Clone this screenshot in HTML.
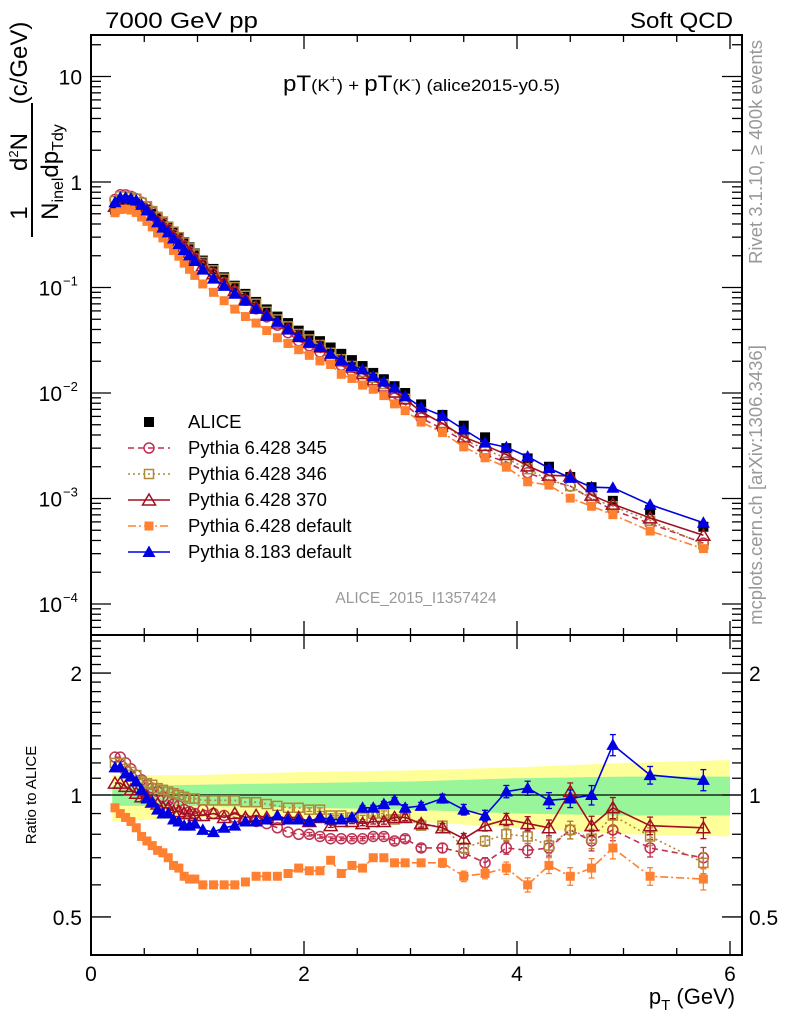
<!DOCTYPE html>
<html><head><meta charset="utf-8">
<style>
html,body{margin:0;padding:0;background:#fff;}
svg{display:block;font-family:"Liberation Sans",sans-serif;}
</style></head>
<body>
<svg id="chart" width="786" height="1024" viewBox="0 0 786 1024" xmlns="http://www.w3.org/2000/svg">
<text x="105" y="28" font-size="22" textLength="153" lengthAdjust="spacingAndGlyphs">7000 GeV pp</text>
<text x="630" y="28" font-size="22" textLength="103" lengthAdjust="spacingAndGlyphs">Soft QCD</text>
<text x="283" y="91" font-size="22" textLength="277" lengthAdjust="spacingAndGlyphs">pT<tspan font-size="17">(K</tspan><tspan font-size="11" dy="-8">+</tspan><tspan font-size="17" dy="8">) + </tspan>pT<tspan font-size="17">(K</tspan><tspan font-size="11" dy="-8">-</tspan><tspan font-size="17" dy="8">) (alice2015-y0.5)</tspan></text>
<text transform="translate(762,152) rotate(-90)" font-size="18.5" fill="#999" text-anchor="middle">Rivet 3.1.10, ≥ 400k events</text>
<text transform="translate(762,485) rotate(-90)" font-size="18.5" fill="#999" text-anchor="middle">mcplots.cern.ch [arXiv:1306.3436]</text>
<text x="416" y="603" font-size="15.5" fill="#999" text-anchor="middle">ALICE_2015_I1357424</text>
<g>
<text transform="translate(27,213) rotate(-90)" font-size="24" text-anchor="middle">1</text>
<line x1="32" y1="103" x2="32" y2="237" stroke="#000" stroke-width="2"/>
<text transform="translate(58,172) rotate(-90)" font-size="24" text-anchor="middle">N<tspan font-size="16" dy="5">inel</tspan><tspan dy="-5">dp</tspan><tspan font-size="16" dy="5">Tdy</tspan></text>
<text transform="translate(27,152) rotate(-90)" font-size="24" text-anchor="middle">d<tspan font-size="13" dy="-9">2</tspan><tspan dy="9">N</tspan></text>
<text transform="translate(27,63) rotate(-90)" font-size="24" text-anchor="middle">(c/GeV)</text>
</g>
<text transform="translate(36,795) rotate(-90)" font-size="15" text-anchor="middle">Ratio to ALICE</text>
<text x="692" y="1004" font-size="22" text-anchor="middle">p<tspan font-size="15" dy="6">T</tspan><tspan dy="-6"> (GeV)</tspan></text>
<g id="g-bands"></g>
<g id="g-axes"></g>
<g id="g-series"></g>
<g id="g-legend"></g>
</svg>
<script>
const xs=[0.225,0.275,0.325,0.375,0.425,0.475,0.525,0.575,0.625,0.675,0.725,0.775,0.825,0.875,0.925,0.975,
1.05,1.15,1.25,1.35,1.45,1.55,1.65,1.75,1.85,1.95,
2.05,2.15,2.25,2.35,2.45,2.55,2.65,2.75,2.85,2.95,
3.1,3.3,3.5,3.7,3.9,4.1,4.3,4.5,4.7,4.9,5.25,5.75];
const aliceVals=[.55,.61,.63,.63,.62,.59,.55,.50,.45,.41,.37,.335,.30,.27,.24,.21,
.18,.15,.125,.104,.087,.073,.062,.053,.046,.039,
.035,.031,.027,.0235,.0205,.018,.0155,.0135,.0116,.0100,
.0078,.0062,.0049,.0038,.0030,.0024,.0020,.0016,.00128,.00095,.00078,.00054];
const ratio345=[1.24,1.24,1.20,1.16,1.12,1.09,1.06,1.04,1.02,0.99,0.97,0.95,0.94,0.92,0.91,0.90,
0.92,0.90,0.89,0.88,0.87,0.86,0.85,0.83,0.81,0.80,
0.80,0.79,0.78,0.78,0.78,0.78,0.79,0.79,0.77,0.78,
0.74,0.74,0.72,0.68,0.74,0.73,0.74,0.82,0.77,0.82,0.74,0.70];
const ratio346=[1.20,1.20,1.16,1.14,1.12,1.08,1.07,1.06,1.04,1.03,1.02,1.01,1.00,0.99,0.98,0.98,
0.97,0.97,0.97,0.97,0.96,0.96,0.95,0.94,0.93,0.93,
0.92,0.92,0.89,0.89,0.88,0.88,0.90,0.90,0.87,0.88,
0.84,0.84,0.74,0.77,0.80,0.79,0.75,0.82,0.78,0.89,0.79,0.68];
const ratio370=[1.07,1.07,1.05,1.03,1.01,0.99,0.99,0.96,0.95,0.93,0.93,0.91,0.91,0.90,0.90,0.89,
0.89,0.90,0.88,0.90,0.88,0.89,0.88,0.87,0.88,0.88,
0.86,0.88,0.84,0.86,0.86,0.85,0.86,0.86,0.88,0.88,
0.85,0.83,0.78,0.84,0.87,0.85,0.83,1.02,0.84,0.93,0.84,0.83];
const ratioP6def=[0.93,0.90,0.88,0.86,0.83,0.79,0.77,0.75,0.73,0.72,0.70,0.67,0.66,0.63,0.62,0.62,
0.60,0.60,0.60,0.60,0.61,0.63,0.63,0.63,0.64,0.66,
0.65,0.65,0.69,0.64,0.67,0.66,0.70,0.70,0.68,0.68,
0.68,0.68,0.63,0.64,0.66,0.60,0.67,0.63,0.66,0.74,0.63,0.62];
const ratioP8=[1.17,1.17,1.13,1.11,1.08,1.03,0.98,0.96,0.92,0.90,0.90,0.87,0.86,0.84,0.84,0.85,
0.82,0.81,0.83,0.84,0.86,0.86,0.87,0.89,0.87,0.87,
0.86,0.88,0.87,0.87,0.88,0.93,0.93,0.95,0.97,0.93,
0.94,0.98,0.92,0.89,1.02,1.04,0.97,0.98,1.00,1.33,1.12,1.09];
const mcRelErr=[0,0,0,0,0,0,0,0,0,0,0,0,0,0,0,0,0,0,0,0,0,0,0,0,0,0,
0.01,0.01,0.01,0.01,0.012,0.012,0.014,0.015,0.016,0.018,
0.02,0.025,0.03,0.03,0.035,0.04,0.045,0.05,0.055,0.06,0.05,0.06];
const bandX=[0.2,1,2,3,4,5,6];
const yellowHi=[1.12,1.12,1.14,1.15,1.17,1.20,1.22];
const yellowLo=[0.86,0.88,0.88,0.86,0.83,0.80,0.79];
const greenHi=[1.05,1.06,1.07,1.08,1.10,1.11,1.11];
const greenLo=[0.94,0.94,0.93,0.92,0.90,0.89,0.89];
const xTicks=[0,2,4,6];
const mainYTicks=[10,1,0.1,0.01,0.001,0.0001];
const mainYLabels=["10","1","10","10","10","10"];
const mainYExp=["","","−1","−2","−3","−4"];
const ratioTicks=[0.5,1,2];
const ratioLabels=["0.5","1","2"];
const legendNames=["ALICE","Pythia 6.428 345","Pythia 6.428 346","Pythia 6.428 370","Pythia 6.428 default","Pythia 8.183 default"];

const NS="http://www.w3.org/2000/svg";
const L=91,R=742,T=35,M=635,B=955;
const X=v=>L+(v-0)*106.5;
const Ymain=v=>182-Math.log10(v)*105.5;
const Yr=v=>795-Math.log10(v)*405;
function mk(tag,attrs,parent){const e=document.createElementNS(NS,tag);for(const k in attrs)e.setAttribute(k,attrs[k]);parent.appendChild(e);return e;}
const gA=document.getElementById('g-axes'),gS=document.getElementById('g-series'),gB=document.getElementById('g-bands'),gL=document.getElementById('g-legend');

function band(hi,lo,col,name){let p=[];bandX.forEach((x,i)=>p.push(X(x)+','+Yr(hi[i])));for(let i=bandX.length-1;i>=0;i--)p.push(X(bandX[i])+','+Yr(lo[i]));
const e=mk('polygon',{points:p.join(' '),fill:col},gB);

}
band(yellowHi,yellowLo,'#ffff99','total-uncertainty-band');
band(greenHi,greenLo,'#99f599','stat-uncertainty-band');
{const e=mk('line',{x1:L,x2:R,y1:Yr(1),y2:Yr(1),stroke:'#000','stroke-width':1.3},gB);

}

[[T,M],[M,B]].forEach(([t,b],i)=>{const e=mk('rect',{x:L,y:t,width:R-L,height:b-t,fill:'none',stroke:'#000','stroke-width':2},gA);

});
for(let v=0;v<=6.01;v+=0.5){const maj=Math.abs(v-Math.round(v/2)*2)<1e-6;const len=maj?14:7;const x=X(v);
[[M,-1],[T,1],[B,-1],[M,1]].forEach(([y,d])=>mk('line',{x1:x,x2:x,y1:y,y2:y+d*len,stroke:'#000','stroke-width':1.3},gA));}
xTicks.forEach(v=>{const e=mk('text',{x:X(v),y:981,'font-size':21,'text-anchor':'middle'},gA);e.textContent=v;

});
for(let d=-5;d<=1;d++){for(let m=1;m<=9;m++){const v=m*Math.pow(10,d);const y=Ymain(v);if(y<T||y>M)continue;const len=m==1?20:10;
mk('line',{x1:L,x2:L+len,y1:y,y2:y,stroke:'#000','stroke-width':1.3},gA);mk('line',{x1:R,x2:R-len,y1:y,y2:y,stroke:'#000','stroke-width':1.3},gA);}}
mainYTicks.forEach((v,i)=>{const e=mk('text',{x:mainYExp[i]?62:82,y:Ymain(v)+8,'font-size':21,'text-anchor':'end'},gA);e.textContent=mainYLabels[i];


if(mainYExp[i]){const s=mk('text',{x:63,y:Ymain(v)-2,'font-size':13},gA);s.textContent=mainYExp[i];}});
for(let v=0.4;v<=2.5;v+=0.1){const y=Yr(v);if(y<M||y>B)continue;const maj=ratioTicks.some(t=>Math.abs(t-v)<1e-6);const len=maj?20:10;
mk('line',{x1:L,x2:L+len,y1:y,y2:y,stroke:'#000','stroke-width':1.3},gA);mk('line',{x1:R,x2:R-len,y1:y,y2:y,stroke:'#000','stroke-width':1.3},gA);}
ratioTicks.forEach((v,i)=>{const e=mk('text',{x:82,y:Yr(v)+8,'font-size':21,'text-anchor':'end'},gA);e.textContent=ratioLabels[i];


const e2=mk('text',{x:749,y:Yr(v)+8,'font-size':21},gA);e2.textContent=ratioLabels[i];

});

function marker(type,x,y,col,g){const s=5;
if(type=='fsq')return mk('rect',{x:x-s,y:y-s,width:2*s,height:2*s,fill:col},g);
if(type=='osq')return mk('rect',{x:x-4.5,y:y-4.5,width:9,height:9,fill:'none',stroke:col,'stroke-width':1.5},g);
if(type=='fsq2')return mk('rect',{x:x-4.5,y:y-4.5,width:9,height:9,fill:col},g);
if(type=='oc')return mk('circle',{cx:x,cy:y,r:5,fill:'none',stroke:col,'stroke-width':1.5},g);
if(type=='otri')return mk('polygon',{points:`${x},${y-6} ${x-6.5},${y+5} ${x+6.5},${y+5}`,fill:'none',stroke:col,'stroke-width':1.5},g);
if(type=='ftri')return mk('polygon',{points:`${x},${y-6.5} ${x-6.5},${y+5} ${x+6.5},${y+5}`,fill:col},g);}

const series=[
{name:'pythia6-345',ratio:ratio345,col:'#c03050',m:'oc',dash:'6,4'},
{name:'pythia6-346',ratio:ratio346,col:'#b0883a',m:'osq',dash:'2,3'},
{name:'pythia6-370',ratio:ratio370,col:'#a01020',m:'otri',dash:''},
{name:'pythia6-default',ratio:ratioP6def,col:'#ff8030',m:'fsq2',dash:'8,3,2,3'},
{name:'pythia8-default',ratio:ratioP8,col:'#0000e0',m:'ftri',dash:''}];

const gAl=mk('g',{},gS);


aliceVals.forEach((v,i)=>{const e=marker('fsq',X(xs[i]),Ymain(v),'#000',gAl);

});

series.forEach(s=>{
 const g=mk('g',{},gS);
 
 
 const pm=xs.map((x,i)=>X(x)+','+Ymain(aliceVals[i]*s.ratio[i])).join(' ');
 const pr=xs.map((x,i)=>X(x)+','+Yr(s.ratio[i])).join(' ');
 [pm,pr].forEach(p=>{const a={points:p,fill:'none',stroke:s.col,'stroke-width':1.6};if(s.dash)a['stroke-dasharray']=s.dash;mk('polyline',a,g);});
 xs.forEach((x,i)=>{
  const e=marker(s.m,X(x),Ymain(aliceVals[i]*s.ratio[i]),s.col,g);
  
  
  const r=s.ratio[i],er=mcRelErr[i]*r;
  if(er>0){mk('line',{x1:X(x),x2:X(x),y1:Yr(r+er),y2:Yr(Math.max(r-er,0.05)),stroke:s.col,'stroke-width':1.3},g);
   [r+er,r-er].forEach(q=>mk('line',{x1:X(x)-3,x2:X(x)+3,y1:Yr(q),y2:Yr(q),stroke:s.col,'stroke-width':1.3},g));}
  const e2=marker(s.m,X(x),Yr(r),s.col,g);
  
  
 });
});

const legTypes=['fsq','oc','osq','otri','fsq2','ftri'];
const legCols=['#000','#c03050','#b0883a','#a01020','#ff8030','#0000e0'];
const legDash=['','6,4','2,3','','8,3,2,3',''];
legendNames.forEach((n,i)=>{const y=422+i*26;const g=mk('g',{},gL);
 
 
 if(i>0){const a={x1:128,x2:170,y1:y,y2:y,stroke:legCols[i],'stroke-width':1.6};if(legDash[i])a['stroke-dasharray']=legDash[i];mk('line',a,g);}
 marker(legTypes[i],149,y,legCols[i],g);
 const t=mk('text',{x:188,y:y+6,'font-size':18.5},g);t.textContent=n;});
</script>
</body></html>
